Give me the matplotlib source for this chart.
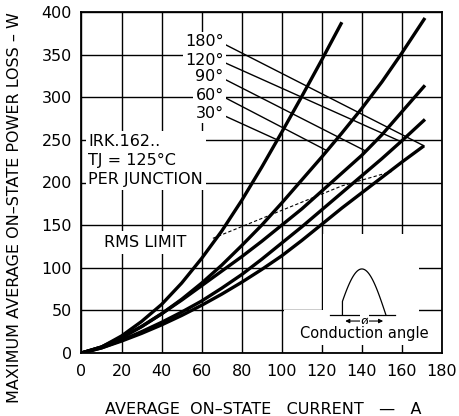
import numpy as np
import matplotlib
matplotlib.use("Agg")
import matplotlib.pyplot as plt
from matplotlib.patches import Rectangle, FancyArrowPatch

plt.rcParams['font.family'] = ['DejaVu Sans']

# ---- data ----
angles = ["180°", "120°", "90°", "60°", "30°"]

cur_180 = [0, 10, 20, 30, 40, 50, 60, 70, 80, 90, 100, 110, 120, 130, 140, 150, 160, 171]
pw_180 = [0, 6, 14, 23, 33, 44, 56, 69, 83, 98, 114, 132, 151, 170, 188, 206, 224, 243]

cur_120 = [0, 10, 20, 30, 40, 50, 60, 70, 80, 90, 100, 110, 120, 130, 140, 150, 160, 171.5]
pw_120 = [0, 6, 15, 25, 36, 48, 61, 76, 92, 110, 129, 148, 168, 188, 208, 228, 249, 274]

cur_90 = [0, 10, 20, 30, 40, 50, 60, 70, 80, 90, 100, 110, 120, 130, 140, 150, 160, 171.5]
pw_90 = [0, 7, 18, 31, 46, 62, 79, 96, 113, 131, 150, 169, 190, 211, 232, 256, 283, 314]

cur_60 = [0, 10, 20, 30, 40, 50, 60, 70, 80, 90, 100, 110, 120, 130, 140, 150, 160, 171.5]
pw_60 = [0, 7, 18, 31, 46, 63, 82, 103, 126, 150, 176, 203, 230, 258, 287, 318, 352, 393]

cur_30 = [0, 10, 20, 30, 40, 50, 60, 70, 80, 90, 100, 110, 120, 130]
pw_30 = [0, 7, 20, 37, 57, 82, 111, 143, 179, 218, 259, 301, 344, 388]

curves = [(cur_180, pw_180), (cur_120, pw_120), (cur_90, pw_90),
          (cur_60, pw_60), (cur_30, pw_30)]

# label anchor heights (W) and where each leader meets its curve (A)
label_y = [365, 343.5, 324, 302.6, 281]
leader_to = [171, 159.5, 142, 122.6, 97.8]

rms_cur = [65.6, 130, 155]
rms_pw = [134.5, 196, 213]

xticks = list(range(0, 181, 20))
yticks = list(range(0, 401, 50))

# ---- figure ----
W, H = 460, 416
fig = plt.figure(figsize=(W / 100, H / 100), dpi=100)
L, R, T, B = 81.5, 442, 12, 353
ax = fig.add_axes([L / W, 1 - B / H, (R - L) / W, (B - T) / H])
ax.set_xlim(0, 180)
ax.set_ylim(0, 400)
ax.set_xticks(xticks)
ax.set_yticks(yticks)
ax.grid(True, color='black', lw=1.0)
ax.tick_params(length=0, labelsize=11.5, colors='black')
ax.tick_params(axis='x', pad=8)
ax.tick_params(axis='y', pad=7)
for s in ax.spines.values():
    s.set_linewidth(1.3)
    s.set_color('black')

# curves
for c, p in curves:
    ax.plot(c, p, color='black', lw=2.4, solid_capstyle='butt', zorder=4)

# RMS limit dashed
ax.plot(rms_cur, rms_pw, color='black', lw=0.8, ls=(0, (3, 2)), zorder=3)

# angle labels and leaders
for lab, ly, lt, (c, p) in zip(angles, label_y, leader_to, curves):
    ax.text(71, ly, lab, ha='right', va='center', fontsize=11.5,
            bbox=dict(fc='white', ec='none', pad=1.5), zorder=5)
    ax.plot([71.6, lt], [ly - 3, np.interp(lt, c, p)], color='black', lw=1.0, zorder=3)

ax.text(3.4, 226, "IRK.162..\nTJ = 125°C\nPER JUNCTION", ha='left', va='center',
        fontsize=11.5, linespacing=1.34,
        bbox=dict(fc='white', ec='none', pad=2), zorder=5)
ax.text(31.9, 129.6, "RMS LIMIT", ha='center', va='center', fontsize=11.5,
        bbox=dict(fc='white', ec='none', pad=3), zorder=5)

# conduction angle inset
ax.add_patch(Rectangle((120.5, 9), 48, 140 - 9, fc='white', ec='none', zorder=1.8))
ax.add_patch(Rectangle((101, 9), 20, 50 - 9, fc='white', ec='none', zorder=1.8))
base_y = 44.6
x0, x1 = 128, 152
amp = 54
ax.plot([124, 156.4], [base_y, base_y], color='black', lw=0.9, zorder=3)
ph = np.linspace(0.3, np.pi, 60)
xs = x0 + (x1 - x0) * ph / np.pi
ys = base_y + amp * np.sin(ph)
ax.plot(np.r_[xs[0], xs], np.r_[base_y, ys], color='black', lw=0.9, zorder=3)
xa = x0 + (x1 - x0) * 0.3 / np.pi
arr = FancyArrowPatch((xa, 37.5), (x1, 37.5), arrowstyle='<|-|>', mutation_scale=6,
                      color='black', lw=0.8, zorder=3)
ax.add_patch(arr)
ax.text((xa + x1) / 2, 37.5, "ø", ha='center', va='center', fontsize=9,
        bbox=dict(fc='white', ec='none', pad=0.5), zorder=5)
ax.text(141, 22.3, "Conduction angle", ha='center', va='center', fontsize=10.5,
        bbox=dict(fc='white', ec='none', pad=2), zorder=5)

fig.text(263 / W, 1 - 410 / H, "AVERAGE  ON–STATE   CURRENT   —   A", ha='center',
         va='center', fontsize=11.5)
fig.text(15 / W, 1 - 208 / H, "MAXIMUM AVERAGE ON–STATE POWER LOSS – W",
         ha='center', va='center', rotation=90, fontsize=11.5)

fig.savefig("out.png", dpi=100)
